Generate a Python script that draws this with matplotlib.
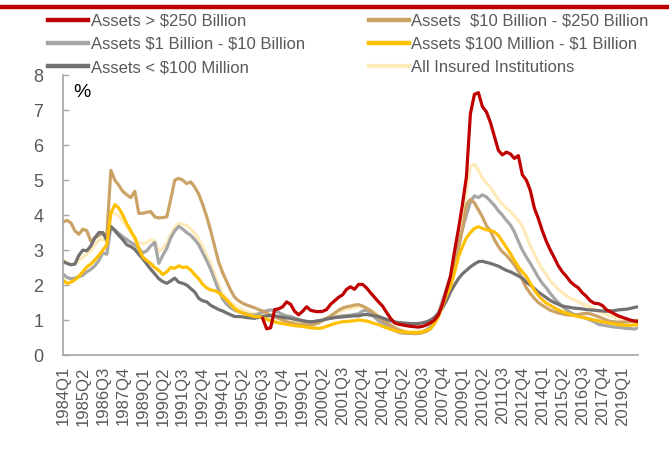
import matplotlib
matplotlib.use("Agg")
import matplotlib.pyplot as plt
import numpy as np
from matplotlib.lines import Line2D

plt.rcParams["font.family"] = ["Liberation Sans", "DejaVu Sans"]
plt.rcParams["text.parse_math"] = False

# quarters 1984Q1 .. 2020Q1
quarters = [f"{y}Q{q}" for y in range(1984, 2021) for q in range(1, 5)][:145]

assets_gt250b_start = 50  # series starts 1996Q3
assets_gt250b = [
    1.05, 0.75, 0.78, 1.30, 1.32, 1.38, 1.52, 1.45, 1.25, 1.15,
    1.25, 1.38, 1.28, 1.25, 1.24, 1.25, 1.30, 1.45, 1.55, 1.65,
    1.72, 1.88, 1.95, 1.88, 2.02, 2.02, 1.92, 1.78, 1.65, 1.52,
    1.40, 1.22, 1.05, 0.92, 0.88, 0.86, 0.84, 0.82, 0.81, 0.80,
    0.82, 0.86, 0.92, 1.00, 1.15, 1.45, 1.85, 2.25, 2.95, 3.60,
    4.30, 5.10, 6.90, 7.45, 7.50, 7.10, 6.95, 6.65, 6.25, 5.85,
    5.72, 5.80, 5.75, 5.62, 5.70, 5.15, 5.00, 4.70, 4.20, 3.90,
    3.55, 3.25, 3.00, 2.78, 2.55, 2.38, 2.25, 2.10, 2.00, 1.92,
    1.78, 1.68, 1.55, 1.48, 1.47, 1.42, 1.30, 1.24, 1.18, 1.12,
    1.08, 1.04, 1.00, 0.97, 0.96,
]
assets_10b_250b = [
    3.80, 3.85, 3.78, 3.55, 3.45, 3.60, 3.55, 3.25, 3.35, 3.42,
    3.48, 3.42, 5.28, 5.00, 4.85, 4.68, 4.58, 4.50, 4.68, 4.05,
    4.05, 4.08, 4.10, 3.95, 3.92, 3.93, 3.95, 4.45, 5.00, 5.05,
    5.00, 4.90, 4.95, 4.80, 4.60, 4.30, 3.95, 3.55, 3.10, 2.65,
    2.35, 2.10, 1.85, 1.65, 1.55, 1.48, 1.43, 1.39, 1.35, 1.30,
    1.26, 1.20, 1.14, 1.10, 1.05, 1.00, 0.95, 0.92, 0.90, 0.88,
    0.87, 0.86, 0.86, 0.88, 0.92, 0.98, 1.05, 1.12, 1.20, 1.28,
    1.34, 1.38, 1.40, 1.43, 1.44, 1.40, 1.34, 1.27, 1.18, 1.08,
    1.00, 0.94, 0.85, 0.78, 0.72, 0.68, 0.65, 0.63, 0.62, 0.62,
    0.64, 0.68, 0.75, 0.90, 1.15, 1.45, 1.80, 2.10, 2.50, 3.05,
    3.60, 4.30, 4.45, 4.35, 4.15, 3.95, 3.70, 3.55, 3.30, 3.10,
    2.95, 2.85, 2.72, 2.58, 2.40, 2.15, 1.92, 1.76, 1.62, 1.50,
    1.42, 1.35, 1.28, 1.24, 1.20, 1.18, 1.15, 1.14, 1.14, 1.16,
    1.18, 1.19, 1.18, 1.14, 1.10, 1.05, 1.00, 0.96, 0.95, 0.94,
    0.94, 0.95, 0.96, 0.98, 1.00,
]
assets_1b_10b = [
    2.32, 2.22, 2.18, 2.20, 2.24, 2.28, 2.38, 2.45, 2.55, 2.70,
    2.92, 2.88, 3.65, 3.58, 3.48, 3.38, 3.30, 3.22, 3.15, 3.05,
    2.92, 2.98, 3.12, 3.22, 2.62, 2.85, 3.05, 3.35, 3.55, 3.68,
    3.60, 3.50, 3.42, 3.30, 3.15, 2.92, 2.70, 2.45, 2.15, 1.85,
    1.60, 1.45, 1.35, 1.28, 1.24, 1.20, 1.17, 1.14, 1.14, 1.18,
    1.22, 1.27, 1.29, 1.27, 1.22, 1.16, 1.12, 1.10, 1.06, 1.02,
    0.98, 0.96, 0.95, 0.96, 0.98, 1.00, 1.03, 1.05, 1.08, 1.10,
    1.12, 1.13, 1.14, 1.16, 1.18, 1.26, 1.28, 1.20, 1.08, 0.98,
    0.92, 0.85, 0.78, 0.70, 0.65, 0.63, 0.62, 0.62, 0.61, 0.62,
    0.65, 0.72, 0.80, 0.95, 1.20, 1.55, 1.90, 2.25, 2.70, 3.15,
    3.60, 4.00, 4.38, 4.55, 4.50, 4.58, 4.52, 4.40, 4.28, 4.12,
    4.00, 3.85, 3.72, 3.52, 3.25, 3.00, 2.80, 2.62, 2.42, 2.22,
    2.05, 1.92, 1.76, 1.62, 1.50, 1.40, 1.30, 1.22, 1.16, 1.12,
    1.08, 1.05, 1.00, 0.95, 0.88, 0.86, 0.84, 0.82, 0.80, 0.79,
    0.78, 0.76, 0.76, 0.74, 0.78,
]
assets_100m_1b = [
    2.15, 2.05, 2.08, 2.15, 2.25, 2.38, 2.52, 2.60, 2.72, 2.85,
    3.00, 3.15, 4.05, 4.30, 4.20, 4.00, 3.75, 3.55, 3.35, 3.05,
    2.80, 2.70, 2.62, 2.50, 2.42, 2.30, 2.38, 2.50, 2.48, 2.55,
    2.50, 2.52, 2.43, 2.30, 2.18, 2.02, 1.92, 1.86, 1.84, 1.78,
    1.68, 1.58, 1.45, 1.32, 1.25, 1.20, 1.16, 1.13, 1.10, 1.10,
    1.06, 1.02, 0.98, 0.95, 0.92, 0.90, 0.88, 0.86, 0.84, 0.83,
    0.82, 0.80, 0.78, 0.77, 0.76, 0.78, 0.82, 0.86, 0.90, 0.93,
    0.95, 0.96, 0.97, 0.98, 1.00, 0.99, 0.97, 0.94, 0.90, 0.87,
    0.82, 0.78, 0.74, 0.70, 0.67, 0.66, 0.65, 0.64, 0.64, 0.64,
    0.66, 0.70, 0.76, 0.90, 1.10, 1.40, 1.70, 1.95, 2.35, 2.80,
    3.10, 3.35, 3.50, 3.62, 3.67, 3.62, 3.58, 3.56, 3.52, 3.42,
    3.25, 3.08, 2.90, 2.70, 2.52, 2.38, 2.24, 2.05, 1.85, 1.70,
    1.58, 1.48, 1.42, 1.35, 1.29, 1.24, 1.20, 1.16, 1.13, 1.10,
    1.08, 1.05, 1.03, 1.00, 0.98, 0.95, 0.93, 0.91, 0.89, 0.87,
    0.86, 0.85, 0.85, 0.86, 0.87,
]
assets_lt100m = [
    2.68, 2.62, 2.58, 2.60, 2.85, 3.00, 2.98, 3.12, 3.35, 3.50,
    3.50, 3.28, 3.68, 3.55, 3.42, 3.30, 3.15, 3.10, 3.02, 2.88,
    2.75, 2.60, 2.45, 2.32, 2.18, 2.10, 2.05, 2.12, 2.20, 2.08,
    2.05, 2.00, 1.90, 1.80, 1.62, 1.55, 1.52, 1.42, 1.36, 1.30,
    1.26, 1.20, 1.15, 1.10, 1.10, 1.09, 1.07, 1.06, 1.05, 1.08,
    1.10, 1.12, 1.13, 1.12, 1.10, 1.08, 1.06, 1.05, 1.02, 1.00,
    0.98, 0.96, 0.95, 0.96, 0.98, 1.00, 1.03, 1.05, 1.07, 1.08,
    1.09, 1.10, 1.11, 1.12, 1.12, 1.15, 1.16, 1.14, 1.12, 1.10,
    1.06, 1.02, 0.98, 0.95, 0.93, 0.92, 0.91, 0.90, 0.90, 0.90,
    0.92, 0.95, 1.00, 1.08, 1.20, 1.35, 1.55, 1.80, 2.00, 2.18,
    2.32, 2.42, 2.52, 2.60, 2.67, 2.68, 2.65, 2.62, 2.58, 2.54,
    2.48, 2.42, 2.38, 2.32, 2.26, 2.20, 2.08, 2.00, 1.90, 1.80,
    1.72, 1.64, 1.56, 1.50, 1.45, 1.40, 1.38, 1.36, 1.34, 1.33,
    1.32, 1.30, 1.29, 1.28, 1.27, 1.26, 1.25, 1.26, 1.27, 1.29,
    1.30, 1.31, 1.33, 1.36, 1.38,
]
all_insured = [
    2.72, 2.65, 2.58, 2.60, 2.70, 2.80, 2.88, 3.00, 3.15, 3.28,
    3.32, 3.22, 4.08, 4.05, 3.98, 3.82, 3.68, 3.50, 3.35, 3.22,
    3.18, 3.22, 3.30, 3.25, 2.95, 3.05, 3.20, 3.45, 3.65, 3.76,
    3.74, 3.70, 3.60, 3.48, 3.32, 3.10, 2.85, 2.62, 2.30, 2.00,
    1.76, 1.62, 1.50, 1.42, 1.35, 1.30, 1.24, 1.20, 1.18, 1.16,
    1.14, 1.12, 1.10, 1.07, 1.04, 1.00, 0.98, 0.95, 0.93, 0.92,
    0.91, 0.90, 0.90, 0.92, 0.96, 1.00, 1.05, 1.10, 1.16, 1.22,
    1.27, 1.31, 1.33, 1.36, 1.38, 1.38, 1.34, 1.28, 1.22, 1.14,
    1.04, 0.95, 0.86, 0.80, 0.75, 0.71, 0.68, 0.67, 0.67, 0.68,
    0.69, 0.71, 0.78, 0.90, 1.12, 1.45, 1.80, 2.20, 2.70, 3.25,
    3.95, 4.70, 5.40, 5.45, 5.28, 5.05, 4.92, 4.80, 4.62, 4.45,
    4.32, 4.20, 4.10, 3.98, 3.85, 3.68, 3.40, 3.12, 2.90, 2.65,
    2.45, 2.30, 2.12, 2.00, 1.88, 1.78, 1.70, 1.62, 1.58, 1.52,
    1.46, 1.42, 1.38, 1.32, 1.26, 1.20, 1.16, 1.12, 1.08, 1.05,
    1.02, 0.99, 0.96, 0.93, 0.92,
]

RED = "#C00000"
TAN = "#CCA366"
LGRAY = "#A6A6A6"
YELLOW = "#FFC000"
DGRAY = "#747171"
CREAM = "#FFEBB9"
TXT = "#595959"

fig = plt.figure(figsize=(6.69, 4.5), dpi=100)
ax = fig.add_axes([0.094, 0.211, 0.86, 0.622])

x = np.arange(len(quarters))
lw = 2.3
ax.plot(x, all_insured, color=CREAM, lw=lw, label="All Insured Institutions")
ax.plot(x, assets_1b_10b, color=LGRAY, lw=lw, label="Assets $1 Billion - $10 Billion")
ax.plot(x, assets_10b_250b, color=TAN, lw=lw, label="Assets  $10 Billion - $250 Billion")
ax.plot(x, assets_lt100m, color=DGRAY, lw=lw, label="Assets < $100 Million")
ax.plot(x, assets_100m_1b, color=YELLOW, lw=lw, label="Assets $100 Million - $1 Billion")
ax.plot(x[assets_gt250b_start:], assets_gt250b, color=RED, lw=lw,
        label="Assets > $250 Billion")

ax.set_xlim(0, len(quarters) - 1)
ax.set_ylim(0, 8)
ax.set_yticks(range(0, 9))
ax.set_xticks(x[::5])
ax.set_xticklabels(quarters[::5], rotation=90)
ax.tick_params(axis="x", length=0, pad=8, labelsize=12, labelcolor=TXT)
ax.tick_params(axis="y", direction="in", length=4, width=1, color="#A6A6A6",
               pad=14, labelsize=13, labelcolor=TXT)
for s in ("top", "right"):
    ax.spines[s].set_visible(False)
for s in ("left", "bottom"):
    ax.spines[s].set_color("#A6A6A6")
    ax.spines[s].set_linewidth(1.2)

ax.text(0.018, 0.97, "%", transform=ax.transAxes, fontsize=14, va="top", color="black")

# legend: two columns laid out like the source
hs = {l.get_label(): l for l in ax.get_lines()}
order = ["Assets > $250 Billion", "Assets $1 Billion - $10 Billion", "Assets < $100 Million",
         "Assets  $10 Billion - $250 Billion", "Assets $100 Million - $1 Billion",
         "All Insured Institutions"]
handles = [Line2D([], [], color=hs[k].get_color(), lw=3.2) for k in order]
leg = fig.legend(handles, order, ncol=2, loc="upper left", bbox_to_anchor=(0.062, 0.985),
                 frameon=False, fontsize=12, handlelength=2.4, handletextpad=0.15,
                 columnspacing=3.85, labelspacing=0.5, borderaxespad=0)
for t in leg.get_texts():
    t.set_color(TXT)

# red rule across the top
fig.add_artist(Line2D([0, 1], [0.984, 0.984], transform=fig.transFigure,
                      color=RED, lw=3.2))

fig.savefig("out.png", dpi=100)
